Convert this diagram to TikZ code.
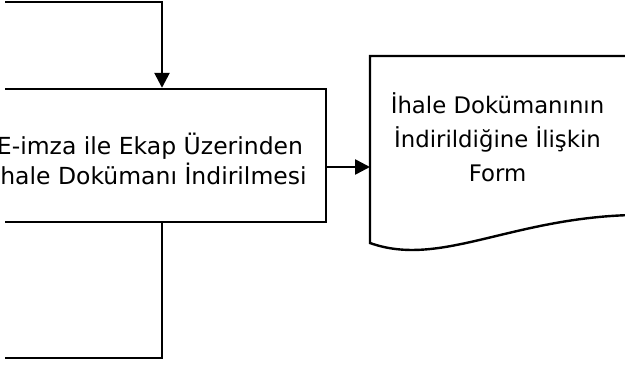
\documentclass[tikz,border=0pt]{standalone}
\usepackage{fontspec}
\setmainfont{DejaVu Sans}
\usetikzlibrary{arrows.meta}
\begin{document}
\begin{tikzpicture}[x=1pt,y=-1pt,
  conn/.style={draw, line width=2.6pt},
  arr/.style={conn, -{Triangle[length=15pt,width=15pt]}},
  boxstyle/.style={draw, line width=2.4pt, minimum width=352pt, minimum height=133pt, inner sep=0pt},
  docstyle/.style={draw, line width=2.4pt},
  lbl/.style={align=center, inner sep=0pt, anchor=base}]
\useasboundingbox (0,0) rectangle (625,369);
\begin{scope}
\clip (5,-5) rectangle (640,375);
\node[boxstyle] (box) at (150,155.5) {};
\coordinate (tin) at (5,2);
\coordinate (tcorner) at (162,2);
\coordinate (bcorner) at (162,358);
\coordinate (bout) at (5,358);
\coordinate (docin) at (370,167);
\draw[arr] (tin) -- (tcorner) -- (tcorner |- box.north);
\draw[conn] (box.south -| bcorner) -- (bcorner) -- (bout);
\draw[docstyle] (370,243) -- (370,56) -- (632,56) -- (632,215)
  .. controls (510,218) and (440,268) .. (370,243) -- cycle;
\draw[arr] (box.east |- docin) -- (docin);
\end{scope}
\node[lbl, font=\fontsize{23.5}{30}\selectfont] (boxtxt) at (150,185) {E-imza ile Ekap Üzerinden\\İhale Dokümanı İndirilmesi};
\node[lbl, font=\fontsize{22.8}{34.5}\selectfont] (doctxt) at (497.5,182) {İhale Dokümanının\\İndirildiğine İlişkin\\Form};
\end{tikzpicture}
\end{document}
